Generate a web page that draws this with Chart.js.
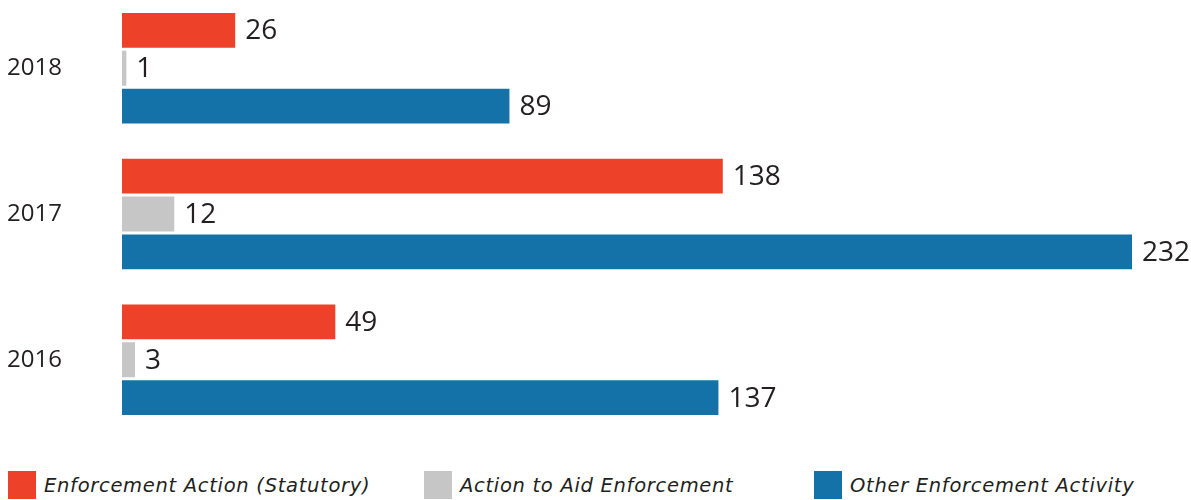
<!DOCTYPE html>
<html lang="en">

<head>
  <meta charset="UTF-8">
  <title>Enforcement Activity</title>
  <script src="https://cdn.jsdelivr.net/npm/chart.js"></script>
  <style>
    body { margin: 0; background: #fff; overflow: hidden; }
    .wrap { position: relative; width: 1191px; height: 500px; overflow: hidden; }
    .chart { position: absolute; left: 0; top: -19px; width: 1191px; height: 466px; }
    .legend { position: absolute; top: 471px; left: 0; width: 1191px; height: 29px;
      font-family: "DejaVu Sans", sans-serif; font-style: italic; font-size: 19.5px;
      letter-spacing: 0.7px; color: #231F20; }
    .legend span { position: absolute; top: 0; display: flex; align-items: center; white-space: nowrap; }
    .legend i { display: inline-block; width: 28px; height: 28px; margin-right: 8px; }
  </style>
</head>

<body>
  <div class="wrap">
    <div class="chart"><canvas id="enfChart"></canvas></div>
    <div class="legend" id="legend"></div>
  </div>

  <script>
    // data
    const years = ['2018', '2017', '2016'];
    const statutory = [26, 138, 49];
    const aidEnforcement = [1, 12, 3];
    const otherActivity = [89, 232, 137];
    const seriesNames = ['Enforcement Action (Statutory)', 'Action to Aid Enforcement', 'Other Enforcement Activity'];
    const colors = ['#EE4129', '#C6C6C6', '#1472A8'];

    // value labels at the end of each bar
    const barLabels = {
      id: 'barLabels',
      afterDatasetsDraw(chart) {
        const ctx = chart.ctx;
        ctx.save();
        ctx.font = '28px "Open Sans"';
        ctx.fillStyle = '#231F20';
        ctx.textBaseline = 'middle';
        chart.data.datasets.forEach((ds, i) => {
          chart.getDatasetMeta(i).data.forEach((bar, j) => {
            ctx.fillText(String(ds.data[j]), bar.x + 10, bar.y + 1);
          });
        });
        ctx.restore();
      }
    };

    const ctx = document.getElementById('enfChart').getContext('2d');
    new Chart(ctx, {
      type: 'bar',
      data: {
        labels: years,
        datasets: [statutory, aidEnforcement, otherActivity].map((d, i) => ({
          label: seriesNames[i],
          data: d,
          backgroundColor: colors[i],
          borderWidth: 0,
          categoryPercentage: 0.78,
          barPercentage: 0.92
        }))
      },
      options: {
        indexAxis: 'y',
        responsive: true,
        maintainAspectRatio: false,
        animation: false,
        layout: { padding: { left: 7, right: 59, top: 0, bottom: 0 } },
        plugins: { legend: { display: false }, tooltip: { enabled: false } },
        scales: {
          x: { display: false, min: 0, max: 232 },
          y: {
            grid: { display: false },
            border: { display: false },
            ticks: {
              crossAlign: 'far',
              padding: 0,
              color: '#231F20',
              font: { family: 'Open Sans', size: 24 }
            },
            afterFit(scale) { scale.width = 115; }
          }
        }
      },
      plugins: [barLabels]
    });

    // legend placed under the chart
    const legendLeft = [8, 424, 814];
    const legend = document.getElementById('legend');
    seriesNames.forEach((name, i) => {
      const item = document.createElement('span');
      item.style.left = legendLeft[i] + 'px';
      item.innerHTML = '<i style="background:' + colors[i] + '"></i>' + name;
      legend.appendChild(item);
    });
  </script>
</body>

</html>
